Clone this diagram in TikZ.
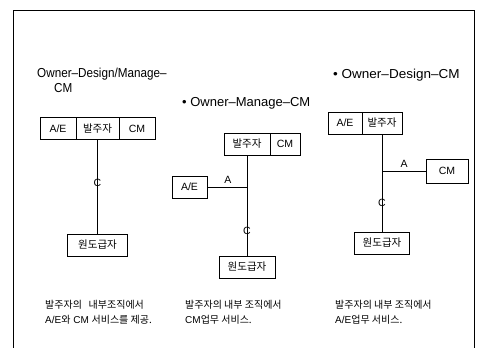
\documentclass[tikz,border=0pt]{standalone}
\usepackage{fontspec}
\setmainfont{Liberation Sans}
\newfontfamily\kr{Noto Sans CJK KR}
\begin{document}
\begin{tikzpicture}[x=1pt,y=-1pt,
  cell/.style={draw, line width=0.8pt, minimum height=22pt, inner sep=0pt, font=\fontsize{10.5}{12}\selectfont},
  title/.style={anchor=west, inner sep=0pt, font=\fontsize{13}{14}\selectfont},
  lab/.style={inner sep=0pt, font=\fontsize{10.5}{12}\selectfont},
  note/.style={anchor=north west, inner sep=0pt, align=left, font=\fontsize{10}{15}\selectfont},
  conn/.style={line width=0.8pt}]
\useasboundingbox (0,0) rectangle (477,348);
% frame
\draw[line width=0.9pt] (13,348) -- (13,10) -- (474,10) -- (474,348);

% ---------- panel 1 ----------
\node[title] (t1a) at (37,74) {\scalebox{0.9}[1]{Owner–Design/Manage–}};
\node[title] (t1b) at (54,88) {\scalebox{0.9}[1]{CM}};
\node[cell, minimum width=36pt] (p1ae) at (58,128.5) {A/E};
\node[cell, minimum width=43pt] (p1ow) at (97.5,128.5) {\kr 발주자};
\node[cell, minimum width=36pt] (p1cm) at (137,128.5) {CM};
\node[cell, minimum width=60pt] (p1gc) at (97.5,245) {\kr 원도급자};
\draw[conn] (p1ow.south) -- (p1gc.north);
\node[lab] (p1c) at (97.5,183) {C};
\node[note] (n1) at (45,300) {{\kr 발주자의 \ \ 내부조직에서}\\A/E{\kr 와} CM {\kr 서비스를 제공.}};

% ---------- panel 2 ----------
\node[title] (t2) at (182,103) {• Owner–Manage–CM};
\node[cell, minimum width=46pt] (p2ow) at (247,144) {\kr 발주자};
\node[cell, minimum width=30pt] (p2cm) at (285,144) {CM};
\node[cell, minimum width=35pt] (p2ae) at (189.5,187) {A/E};
\node[cell, minimum width=56pt] (p2gc) at (247,267) {\kr 원도급자};
\coordinate (j2) at (247,187);
\draw[conn] (p2ow.south) -- (p2gc.north);
\draw[conn] (p2ae.east) -- (j2);
\node[lab] (p2a) at (228,180) {A};
\node[lab] (p2c) at (247,231) {C};
\node[note] (n2) at (185,300) {{\kr 발주자의 내부 조직에서}\\CM{\kr 업무 서비스.}};

% ---------- panel 3 ----------
\node[title] (t3) at (333,75) {\scalebox{1.04}[1]{• Owner–Design–CM}};
\node[cell, minimum width=34pt] (p3ae) at (345,123) {A/E};
\node[cell, minimum width=40pt] (p3ow) at (382,123) {\kr 발주자};
\node[cell, minimum width=42pt, minimum height=24pt] (p3cm) at (447,171) {CM};
\node[cell, minimum width=55pt] (p3gc) at (382,243) {\kr 원도급자};
\coordinate (j3) at (382,171);
\draw[conn] (p3ow.south) -- (p3gc.north);
\draw[conn] (j3) -- (p3cm.west);
\node[lab] (p3a) at (404,164) {A};
\node[lab] (p3c) at (382,203) {C};
\node[note] (n3) at (335,300) {{\kr 발주자의 내부 조직에서}\\A/E{\kr 업무 서비스.}};
\end{tikzpicture}
\end{document}
